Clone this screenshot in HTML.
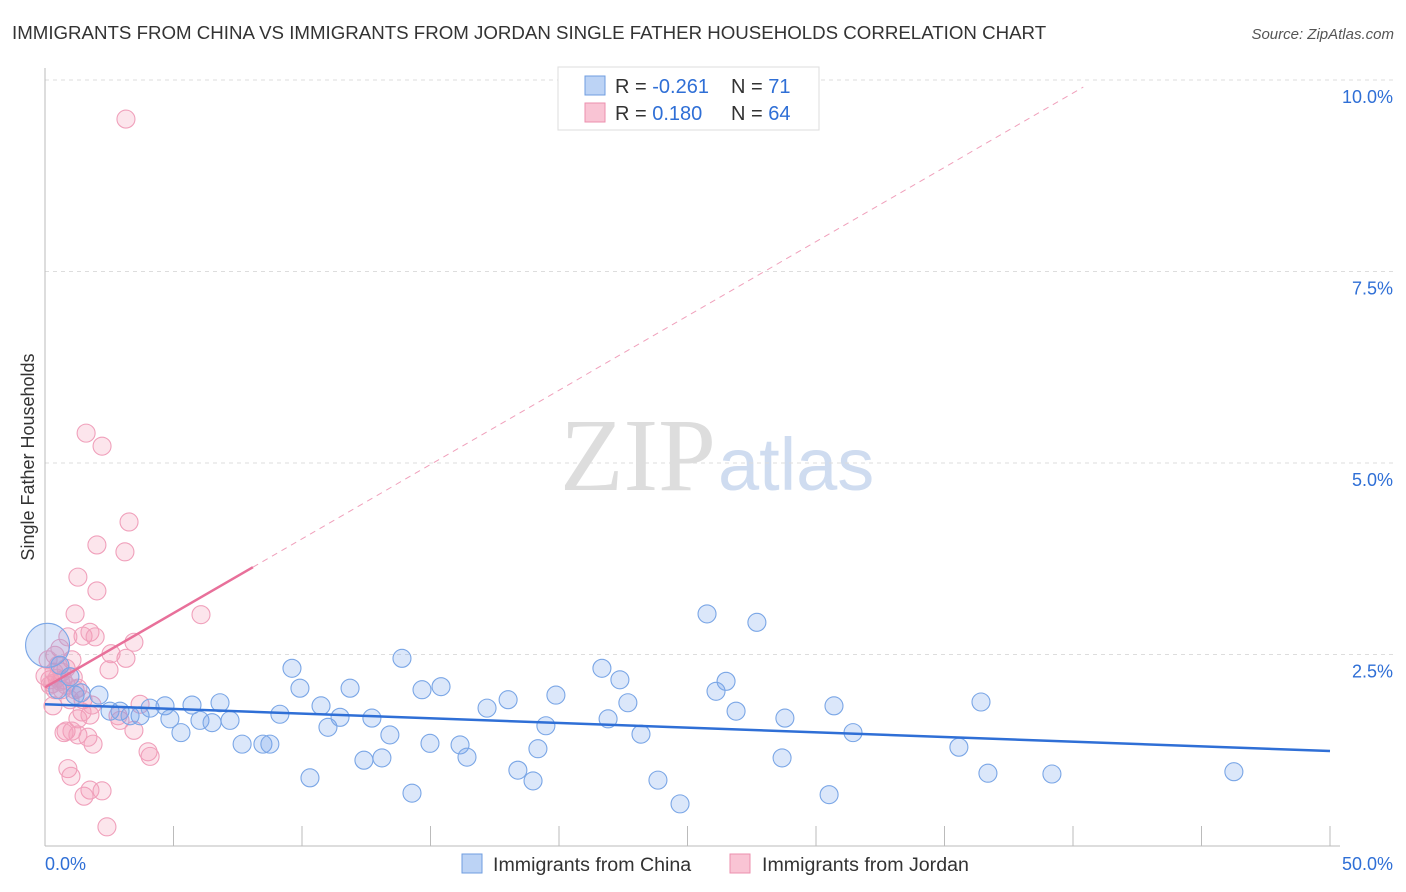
<!DOCTYPE html>
<html><head><meta charset="utf-8"><style>
body{margin:0;background:#fff;font-family:"Liberation Sans",sans-serif}
#c{position:relative;width:1406px;height:892px;overflow:hidden}
</style></head><body>
<div id="c">
<svg id="s" width="1406" height="892" xmlns="http://www.w3.org/2000/svg">
<text x="12" y="39" font-size="18.7" fill="#333">IMMIGRANTS FROM CHINA VS IMMIGRANTS FROM JORDAN SINGLE FATHER HOUSEHOLDS CORRELATION CHART</text>
<text x="1394" y="39" font-size="15" fill="#555" font-style="italic" text-anchor="end">Source: ZipAtlas.com</text>
<text x="716" y="490" font-size="104" fill="#ddd" text-anchor="end" font-family="Liberation Serif,serif">ZIP</text>
<text x="718" y="490" font-size="74" fill="#cfdcf0">atlas</text>
<text transform="translate(34,457) rotate(-90)" font-size="18" fill="#333" text-anchor="middle">Single Father Households</text>
<g id="grid"></g><g id="marks"></g>
<g>
<rect x="558" y="67" width="261" height="63" fill="#fff" stroke="#ddd"/>
<rect x="585" y="76" width="20" height="19" fill="#bcd3f5" stroke="#6f9ee0"/>
<rect x="585" y="103" width="20" height="19" fill="#f9c4d4" stroke="#ec8fae"/>
<text x="615" y="93" font-size="20" fill="#333">R = <tspan fill="#2f6fd6">-0.261</tspan></text>
<text x="731" y="93" font-size="20" fill="#333">N = <tspan fill="#2f6fd6"> 71</tspan></text>
<text x="615" y="120" font-size="20" fill="#333">R = <tspan fill="#2f6fd6"> 0.180</tspan></text>
<text x="731" y="120" font-size="20" fill="#333">N = <tspan fill="#2f6fd6">64</tspan></text>
</g>
<g>
<rect x="462" y="854" width="20" height="19" fill="#bcd3f5" stroke="#6f9ee0"/>
<text x="493" y="871" font-size="19.6" fill="#333">Immigrants from China</text>
<rect x="730" y="854" width="20" height="19" fill="#f9c4d4" stroke="#ec8fae"/>
<text x="762" y="871" font-size="19.6" fill="#333">Immigrants from Jordan</text>
</g>
</svg></div>
<script>
const yTicks=[2.5,5.0,7.5,10.0];
const yTickLabels=["2.5%","5.0%","7.5%","10.0%"];
const xTickLabels=["0.0%","50.0%"];
const chinaX=[2.10,2.53,2.92,3.70,3.31,4.09,4.67,4.86,5.29,5.72,6.03,6.50,6.81,7.20,7.67,8.48,8.75,9.14,9.61,9.92,10.31,10.74,11.01,11.48,11.87,12.41,12.72,13.11,13.42,13.89,14.28,14.67,14.98,15.41,16.15,16.42,17.20,18.02,18.40,18.99,19.18,19.49,19.88,21.67,21.91,22.37,22.68,23.19,23.85,24.71,25.76,26.11,26.50,26.89,27.70,28.79,28.68,30.51,30.70,31.44,35.56,36.42,36.69,39.18,46.26,0.97,0.58,0.5,1.17,0.1,1.4];
const chinaY=[1.97,1.76,1.76,1.70,1.70,1.80,1.83,1.66,1.48,1.84,1.64,1.61,1.87,1.64,1.33,1.33,1.33,1.72,2.32,2.06,0.89,1.83,1.55,1.68,2.06,1.12,1.67,1.15,1.45,2.45,0.69,2.04,1.34,2.08,1.32,1.16,1.80,1.91,0.99,0.85,1.27,1.57,1.97,2.32,1.66,2.17,1.87,1.46,0.86,0.55,3.03,2.02,2.15,1.76,2.92,1.67,1.15,0.67,1.83,1.48,1.29,1.88,0.95,0.94,0.97,2.21,2.36,2.04,1.97,2.62,2.0];
const jordanX=[3.15,1.60,2.22,3.27,2.02,3.11,1.28,2.02,1.17,6.07,1.48,1.75,1.95,0.89,3.46,0.58,0.39,1.05,3.15,2.57,2.49,0.51,0.66,0.19,0.82,1.28,0.70,0.35,0.0,1.48,3.70,0.31,1.28,2.92,1.75,3.46,0.82,1.05,1.28,1.87,4.01,4.09,0.89,1.01,2.22,1.75,1.52,2.41,1.67,0.74,2.84,0.82,0.39,1.17,1.44,0.12,0.97,1.83,0.66,0.47,0.2,0.6,1.1,0.3];
const jordanY=[9.49,5.39,5.22,4.23,3.93,3.84,3.51,3.33,3.03,3.02,2.74,2.79,2.73,2.73,2.66,2.58,2.49,2.43,2.45,2.51,2.30,2.36,2.27,2.17,2.10,2.06,2.17,2.27,2.22,1.91,1.85,1.83,1.66,1.64,1.71,1.51,1.50,1.50,1.45,1.33,1.23,1.17,1.01,0.91,0.72,0.73,0.65,0.25,1.42,1.48,1.70,2.32,2.04,2.04,1.75,2.43,1.91,1.84,2.04,2.19,2.1,2.15,2.2,2.12];
const chinaTrend=[1.85,1.24];
const jordanTrend=[2.07,0.194];
const NS="http://www.w3.org/2000/svg";
const X0=45,X1=1330,Y0=846,YTOP=80;
const xs=v=>X0+v/50*(X1-X0);
const ys=v=>Y0-v/10*(Y0-YTOP);
function mk(t,a,p){const e=document.createElementNS(NS,t);for(const k in a)e.setAttribute(k,a[k]);p.appendChild(e);return e;}
const grid=document.getElementById('grid'),marks=document.getElementById('marks');
yTicks.forEach((t,i)=>{
 const g=mk('line',{x1:X0,x2:1394,y1:ys(t),y2:ys(t),stroke:'#ddd','stroke-dasharray':'4,4'},grid);
 
 
 const tx=mk('text',{x:1393,y:ys(t)+23,'font-size':18,fill:'#2f6fd6','text-anchor':'end'},grid);
 tx.textContent=yTickLabels[i];
 
 
});
const ax=mk('line',{x1:X0,x2:X0,y1:68,y2:Y0,stroke:'#bbb'},grid);


const bx=mk('line',{x1:X0,x2:X1+10,y1:Y0,y2:Y0,stroke:'#bbb'},grid);


for(let i=0;i<=10;i++){const tk=mk('line',{x1:xs(i*5),x2:xs(i*5),y1:826,y2:Y0,stroke:'#bbb'},grid);
 
 }
[[0,'start',45],[50,'end',1393]].forEach((d,i)=>{const t=mk('text',{x:d[2],y:870,'font-size':18,fill:'#2f6fd6','text-anchor':d[1]},grid);t.textContent=xTickLabels[i];
 
 });
function pts(X,Y,fill,stroke,name){X.forEach((x,i)=>{const c=mk('circle',{cx:xs(x),cy:ys(Y[i]),r:(name==='china-point'&&i===69)?22:9,fill:fill,stroke:stroke,'stroke-width':1.1},marks);
 
 });}
pts(jordanX,jordanY,'rgba(242,150,180,0.25)','#f0a0bb','jordan-point');
pts(chinaX,chinaY,'rgba(110,160,235,0.25)','#7aa6e6','china-point');
const ct=mk('line',{x1:xs(0),y1:ys(chinaTrend[0]),x2:xs(50),y2:ys(chinaTrend[1]),stroke:'#2f6fd6','stroke-width':2.5},marks);


const jEnd=8.09,jDash=40.4;
const jt=mk('line',{x1:xs(0),y1:ys(jordanTrend[0]),x2:xs(jEnd),y2:ys(jordanTrend[0]+jordanTrend[1]*jEnd),stroke:'#e8709a','stroke-width':2.5},marks);


const jd=mk('line',{x1:xs(jEnd),y1:ys(jordanTrend[0]+jordanTrend[1]*jEnd),x2:xs(jDash),y2:ys(jordanTrend[0]+jordanTrend[1]*jDash),stroke:'#f0a0bb','stroke-width':1,'stroke-dasharray':'6,5'},marks);


</script>
</body></html>
